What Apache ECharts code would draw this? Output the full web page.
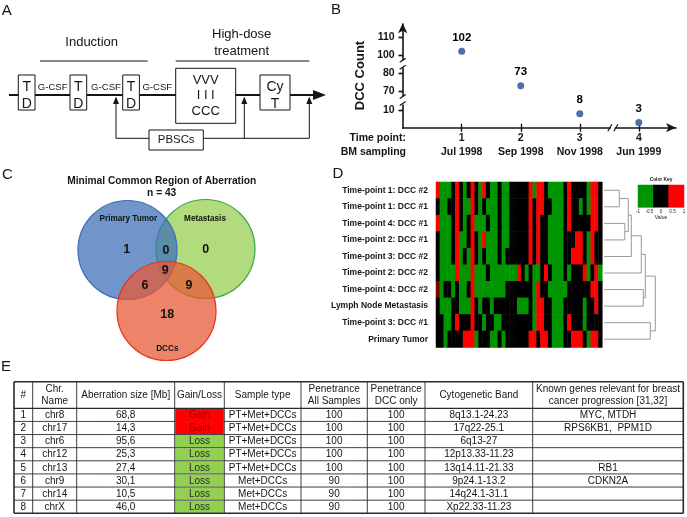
<!DOCTYPE html>
<html>
<head>
<meta charset="utf-8">
<script src="https://cdn.jsdelivr.net/npm/echarts@6/dist/echarts.min.js"></script>
<style>
  html, body { margin: 0; padding: 0; background: #fff; }
  #chart { width: 687px; height: 517px; }
</style>
</head>
<body>
<div id="chart"></div>
<script>
// ---------- panel B: DCC count per sampling ----------
const timePoints = [1, 2, 3, 4]
const samplingDates = ['Jul 1998', 'Sep 1998', 'Nov 1998', 'Jun 1999']
const dccCounts = [102, 73, 8, 3]
const yTickValues = [10, 70, 80, 100, 110]
const yBreaks = [{ start: 13, end: 67, gap: 5 }, { start: 83, end: 97, gap: 4.7 }]

// ---------- panel C: venn ----------
const vennSets = ['Metastasis', 'Primary Tumor', 'DCCs']
const vennRegions = ['PT only', 'PT+Met', 'Met only', 'PT+Met+DCCs', 'PT+DCCs', 'Met+DCCs', 'DCCs only']
const vennCounts = [1, 0, 0, 9, 6, 9, 18]
const vennTotal = 43

// ---------- panel D: heatmap (-1 loss, 0 none, 1 gain) ----------
const heatRows = [
  'Time-point 1: DCC #2', 'Time-point 1: DCC #1', 'Time-point 4: DCC #1', 'Time-point 2: DCC #1',
  'Time-point 3: DCC #2', 'Time-point 2: DCC #2', 'Time-point 4: DCC #2', 'Lymph Node Metastasis',
  'Time-point 3: DCC #1', 'Primary Tumor'
]
const tp1Dcc2 = [1,-1,-1,-1,0,1,0,-1,0,1, 0,-1,1,0,-1,-1,0,-1,-1,0, 0,0,0,0,1,-1,1,1,0,-1, -1,-1,-1,0,1,0,0,0,0,-1, 1,1,0]
const tp1Dcc1 = [0,-1,-1,0,0,1,0,-1,-1,1, 0,-1,0,-1,-1,-1,0,-1,-1,0, 0,0,0,0,1,0,1,1,0,0, -1,-1,-1,0,1,0,0,-1,0,-1, 1,1,0]
const tp4Dcc1 = [1,-1,-1,-1,0,1,0,-1,0,1, -1,-1,-1,0,-1,-1,0,-1,-1,0, 0,0,0,0,1,0,1,0,0,-1, -1,-1,-1,0,1,0,0,0,0,0, 1,1,0]
const tp2Dcc1 = [0,-1,-1,-1,0,1,-1,-1,0,1, 0,-1,1,-1,-1,-1,0,-1,-1,0, 0,0,0,0,1,0,1,0,0,-1, -1,-1,-1,0,0,0,1,1,0,-1, 1,0,0]
const tp3Dcc2 = [0,-1,-1,-1,0,1,-1,0,-1,1, 0,-1,0,-1,-1,-1,0,-1,0,0, 0,0,0,0,1,0,1,0,0,-1, -1,-1,-1,0,0,1,1,1,0,-1, 1,0,0]
const tp2Dcc2 = [0,-1,-1,-1,-1,1,-1,-1,-1,1, -1,-1,-1,0,-1,-1,-1,-1,-1,-1, -1,1,0,-1,0,-1,-1,0,1,0, -1,-1,-1,0,-1,0,0,0,1,-1, 0,1,-1]
const tp4Dcc2 = [0.5,-1,0,0,-1,0,-1,-1,0,1, -1,-1,-1,-1,-1,-1,-1,-1,0,0, 0,0,0,0,0,-1,1,0,0,-1, -1,-1,-1,-1,0,0,0,0,0,0, 1,1,0]
const lymphMet = [0,-1,-1,-1,0,0,-1,-1,-1,1, 0,-1,0,0,-1,0,0,0,0,0, 0,-1,-1,-1,0,-1,1,1,0,0, -1,-1,-1,0,0,0,0,0,-1,0, 0,1,0]
const tp3Dcc1 = [0,0,-1,-1,0,1,0,0,0,1, 0,0,-1,0,0,-1,-1,0,0,0, 0,0,0,0,0,-1,1,1,0,0, -1,-1,-1,0,1,0,0,0,-1,0, 0,0,0]
const primaryTumor = [0,0,-1,0,0,0,0,1,1,1, -1,0,0,0,-1,-1,0,-1,0,0, 0,0,0,0,1,1,0,1,1,0, -1,-1,-1,0,0,1,1,1,0,-1, 1,1,0]
const heatValues = [tp1Dcc2, tp1Dcc1, tp4Dcc1, tp2Dcc1, tp3Dcc2, tp2Dcc2, tp4Dcc2, lymphMet, tp3Dcc1, primaryTumor]
const colorKeyValues = [-1, 0, 1]
// dendrogram merges: nodes 0-9 are rows, merge i creates node 10+i
const dendroLeft = [0, 2, 10, 12, 13, 6, 14, 8, 16]
const dendroRight = [1, 3, 11, 4, 5, 7, 15, 9, 17]
const dendroHeight = [17, 22.5, 26, 29, 39, 41, 43, 48, 53]

// ---------- panel E: table ----------
const tableHeader = ['#', 'Chr.\nName', 'Aberration size [Mb]', 'Gain/Loss', 'Sample type',
  'Penetrance\nAll Samples', 'Penetrance\nDCC only', 'Cytogenetic Band',
  'Known genes relevant for breast\ncancer progression [31,32]']
const rowNo = [1, 2, 3, 4, 5, 6, 7, 8]
const chrName = ['chr8', 'chr17', 'chr6', 'chr12', 'chr13', 'chr9', 'chr14', 'chrX']
const aberrationSize = ['68,8', '14,3', '95,6', '25,3', '27,4', '30,1', '10,5', '46,0']
const gainLoss = ['Gain', 'Gain', 'Loss', 'Loss', 'Loss', 'Loss', 'Loss', 'Loss']
const sampleType = ['PT+Met+DCCs', 'PT+Met+DCCs', 'PT+Met+DCCs', 'PT+Met+DCCs', 'PT+Met+DCCs', 'Met+DCCs', 'Met+DCCs', 'Met+DCCs']
const penetranceAll = [100, 100, 100, 100, 100, 90, 90, 90]
const penetranceDcc = [100, 100, 100, 100, 100, 100, 100, 100]
const cytoBand = ['8q13.1-24.23', '17q22-25.1', '6q13-27', '12p13.33-11.23', '13q14.11-21.33', '9p24.1-13.2', '14q24.1-31.1', 'Xp22.33-11.23']
const knownGenes = ['MYC, MTDH', 'RPS6KB1,  PPM1D', '', '', 'RB1', 'CDKN2A', '', '']

// ---------- layout ----------
const FONT = '"Liberation Sans", Arial, sans-serif'
const vennCenters = [[145.5, 54], [67.5, 55], [106.5, 116]]
const vennRadius = 49.5
const vennFill = ['rgba(151,207,80,0.75)', 'rgba(63,114,183,0.75)', 'rgba(231,91,56,0.75)']
const vennStroke = ['#3aa64a', '#3d6db5', '#e8321e']
const vennLabelPos = [[66.7, 55], [106, 55.7], [145.7, 54.3], [105.3, 76], [85, 91], [129, 91], [107.3, 120]]
const vennNamePos = [[145, 23.3], [68.3, 23.3], [107.3, 153.3]]
const colX = [14, 32.7, 76.7, 174.7, 224.3, 301, 367.3, 425, 532.7, 683.3]
const headTop = 381.7, headBot = 408.3, rowH = 13.125
const TABLE_FONT = 10

const chart = echarts.init(document.getElementById('chart'))

const txt = (x, y, s, size, o = {}) => ({
  type: 'text', x, y, z: 20,
  style: {
    text: s, fill: o.fill || '#151515', fontSize: size, fontFamily: FONT,
    fontWeight: o.bold ? 'bold' : 'normal', align: o.align || 'center',
    verticalAlign: 'middle', lineHeight: o.lh
  }
})
const line = (x1, y1, x2, y2, w = 1, c = '#151515') => ({
  type: 'line', z: 10, shape: { x1, y1, x2, y2 }, style: { stroke: c, lineWidth: w }
})
const rect = (x, y, w, h, fill = '#fff', stroke = '#151515', lw = 1) => ({
  type: 'rect', z: 12, shape: { x, y, width: w, height: h }, style: { fill, stroke, lineWidth: lw }
})
const poly = (pts) => ({ type: 'polygon', z: 13, shape: { points: pts }, style: { fill: '#151515' } })

// panel A schematic
const schematic = () => {
  const g = []
  g.push(line(9, 95, 316, 95, 1.8))
  g.push(poly([[313, 90], [326, 95], [313, 100]]))
  g.push(line(40, 61, 147.7, 61, 1.2), txt(91.7, 42.7, 'Induction', 13))
  g.push(line(175.7, 61, 309.3, 61, 1.2), txt(241.7, 34.3, 'High-dose', 13), txt(241.7, 51, 'treatment', 13))
  ;[18.3, 70, 122.7].forEach(x => {
    g.push(rect(x, 75, 16.7, 35), txt(x + 8.4, 86.7, 'T', 14), txt(x + 8.4, 104.3, 'D', 14))
  })
  ;[52.7, 106, 157.3].forEach(x => g.push(txt(x, 87.3, 'G-CSF', 9.6)))
  g.push(rect(175.7, 68.3, 60, 55), txt(205.7, 80.7, 'VVV', 13), txt(205.7, 95.7, 'I I I', 13), txt(205.7, 111.7, 'CCC', 13))
  g.push(rect(260, 75, 30, 35), txt(275, 86.7, 'Cy', 14), txt(275, 104, 'T', 14))
  g.push(line(116, 138.3, 149, 138.3), line(203.3, 138.3, 309.3, 138.3))
  ;[116, 244.3, 309.3].forEach(x => {
    g.push(line(x, 138.3, x, 103), poly([[x - 3, 104], [x, 96.5], [x + 3, 104]]))
  })
  g.push(rect(149, 130, 54.3, 20), txt(176.2, 140.3, 'PBSCs', 11.4))
  return g
}

// panel E table
const table = () => {
  const g = []
  const cols = [rowNo, chrName, aberrationSize, gainLoss, sampleType, penetranceAll, penetranceDcc, cytoBand, knownGenes]
  const bottom = headBot + rowH * rowNo.length
  gainLoss.forEach((v, i) => {
    const y = headBot + rowH * i
    g.push({
      type: 'rect', z: 8,
      shape: { x: colX[3] + 0.5, y: y + 0.5, width: colX[4] - colX[3] - 1, height: rowH - 1 },
      style: { fill: v === 'Gain' ? '#ff0000' : '#92d050' }
    })
  })
  colX.forEach((x, i) => {
    const edge = i === 0 || i === colX.length - 1
    g.push(line(x, headTop, x, bottom, edge ? 1.6 : 0.9, '#2a2a2a'))
  })
  g.push(line(colX[0], headTop, colX[9], headTop, 1.6, '#2a2a2a'))
  g.push(line(colX[0], bottom, colX[9], bottom, 1.6, '#2a2a2a'))
  for (let i = 0; i < rowNo.length; i++) {
    const y = headBot + rowH * i
    g.push(line(colX[0], y, colX[9], y, i === 0 ? 1.3 : 0.9, '#2a2a2a'))
  }
  tableHeader.forEach((h, c) => {
    g.push(txt((colX[c] + colX[c + 1]) / 2, (headTop + headBot) / 2, h, TABLE_FONT, { lh: 12.5 }))
  })
  cols.forEach((col, c) => {
    col.forEach((v, i) => {
      const cy = headBot + rowH * (i + 0.5) + 0.5
      const fill = c === 3 ? (v === 'Gain' ? '#9a0000' : '#2a2a2a') : '#151515'
      g.push(txt((colX[c] + colX[c + 1]) / 2, cy, String(v), TABLE_FONT, { fill }))
    })
  })
  return g
}

// dendrogram link coordinates
const nodeY = heatRows.map((_, i) => i)
const nodeX = heatRows.map(() => 2)
const dendroLinks = dendroLeft.map((a, i) => {
  const b = dendroRight[i]
  nodeY.push((nodeY[a] + nodeY[b]) / 2)
  nodeX.push(dendroHeight[i])
  return [nodeY[a], nodeX[a], nodeY[b], nodeX[b], dendroHeight[i]]
})

const heatData = []
heatValues.forEach((row, r) => row.forEach((v, c) => heatData.push([c, r, v])))

const breakMarks = yBreaks.map(b => [0, (b.start + b.end) / 2, 0])
breakMarks.push([(timePoints[2] + timePoints[3]) / 2 + 0.06, 0, 1])

const bold = { fontFamily: FONT, fontWeight: 'bold', color: '#151515' }
const hiddenAxis = (gridIndex, min, max, extra = {}) => ({
  gridIndex, type: 'value', min, max, show: false, splitLine: { show: false }, ...extra
})
const bAxisLine = { show: true, symbol: ['none', 'arrow'], symbolSize: [7, 10], lineStyle: { color: '#151515', width: 1.6 } }

const option = {
  animation: false,
  backgroundColor: '#fff',
  grid: [
    { left: 402.7, right: 11, top: 23.3, bottom: 389.3, outerBoundsMode: 'none' },
    { left: 60, top: 195, width: 230, height: 170, outerBoundsMode: 'none' },
    { left: 436, top: 182, width: 166.3, height: 165.5, outerBoundsMode: 'none' },
    { left: 602.3, top: 182, width: 60, height: 165.5, outerBoundsMode: 'none' },
    { left: 638, top: 185, width: 46, height: 22, outerBoundsMode: 'none' }
  ],
  xAxis: [
    {
      gridIndex: 0, type: 'value', min: 0, max: 4.63, axisLine: bAxisLine, splitLine: { show: false },
      axisTick: { customValues: timePoints, length: 4, lineStyle: { color: '#151515', width: 1.4 } },
      axisLabel: {
        customValues: timePoints, margin: 3,
        formatter: v => `{n|${v}}\n{n|${samplingDates[timePoints.indexOf(v)]}}`,
        rich: { n: { ...bold, fontSize: 10.5, lineHeight: 14 } }
      }
    },
    {
      gridIndex: 0, type: 'value', min: 0, max: 4.63, position: 'bottom', axisLine: { show: false },
      splitLine: { show: false }, axisLabel: { show: false },
      axisTick: { customValues: timePoints, inside: true, length: 4, lineStyle: { color: '#151515', width: 1.4 } }
    },
    hiddenAxis(1, 0, 230),
    { gridIndex: 2, type: 'category', data: heatValues[0].map((_, i) => i), show: false },
    hiddenAxis(3, 0, 60),
    { gridIndex: 4, type: 'category', data: colorKeyValues, position: 'top', show: false },
    {
      gridIndex: 4, type: 'value', min: -1, max: 1, interval: 0.5, position: 'bottom',
      axisLine: { show: true, lineStyle: { color: '#444', width: 0.5 } }, splitLine: { show: false },
      axisTick: { length: 1.5, lineStyle: { color: '#444', width: 0.5 } },
      axisLabel: { fontSize: 4.5, margin: 2.5, color: '#222', fontFamily: FONT }
    }
  ],
  yAxis: [
    {
      gridIndex: 0, type: 'value', min: 0, max: 118, breaks: yBreaks, breakArea: { show: false },
      axisLine: bAxisLine, splitLine: { show: false },
      axisTick: { customValues: yTickValues, length: 4, lineStyle: { color: '#151515', width: 1.4 } },
      axisLabel: { customValues: yTickValues, margin: 8, ...bold, fontSize: 10.5 },
      name: 'DCC Count', nameLocation: 'middle', nameGap: 36, nameRotate: 90,
      nameTextStyle: { ...bold, fontSize: 13 }
    },
    {
      gridIndex: 0, type: 'value', min: 0, max: 118, breaks: yBreaks, breakArea: { show: false },
      axisLine: { show: false }, splitLine: { show: false }, axisLabel: { show: false },
      axisTick: { customValues: yTickValues, inside: true, length: 4, lineStyle: { color: '#151515', width: 1.4 } }
    },
    hiddenAxis(1, 0, 170, { inverse: true }),
    {
      gridIndex: 2, type: 'category', data: heatRows, inverse: true,
      axisLine: { show: false }, axisTick: { show: false },
      axisLabel: { ...bold, fontSize: 8.5, margin: 8 }
    },
    hiddenAxis(3, -0.5, 9.5, { inverse: true }),
    { gridIndex: 4, type: 'category', data: ['key'], show: false }
  ],
  visualMap: {
    type: 'continuous', show: false, min: -1, max: 1, dimension: 2, seriesIndex: [4, 6],
    inRange: { color: ['#009400', '#000000', '#ff0000'] }
  },
  series: [
    {
      type: 'scatter', xAxisIndex: 0, yAxisIndex: 0, symbolSize: 7,
      itemStyle: { color: '#4a72a8', opacity: 1 },
      data: timePoints.map((t, i) => [t, dccCounts[i]]),
      label: {
        show: true, position: 'top', distance: 4, color: '#000', fontWeight: 'bold',
        fontFamily: FONT, fontSize: 11.5, formatter: p => p.value[1]
      }
    },
    {
      type: 'custom', xAxisIndex: 0, yAxisIndex: 0, clip: false, z: 5, data: breakMarks,
      renderItem: (params, api) => {
        const [cx, cy] = api.coord([api.value(0), api.value(1)])
        const st = { stroke: '#151515', lineWidth: 1.2 }
        if (api.value(2) === 1) {
          return {
            type: 'group', children: [
              { type: 'rect', shape: { x: cx - 2, y: cy - 3, width: 4, height: 6 }, style: { fill: '#fff' } },
              { type: 'line', shape: { x1: cx - 5, y1: cy + 3.5, x2: cx - 1, y2: cy - 3.5 }, style: st },
              { type: 'line', shape: { x1: cx + 1, y1: cy + 3.5, x2: cx + 5, y2: cy - 3.5 }, style: st }
            ]
          }
        }
        return {
          type: 'group', children: [
            { type: 'rect', shape: { x: cx - 3, y: cy - 2, width: 6, height: 4 }, style: { fill: '#fff' } },
            { type: 'line', shape: { x1: cx - 3, y1: cy - 2, x2: cx + 3, y2: cy - 6 }, style: st },
            { type: 'line', shape: { x1: cx - 3, y1: cy + 5, x2: cx + 3, y2: cy + 1 }, style: st }
          ]
        }
      }
    },
    {
      type: 'custom', xAxisIndex: 2, yAxisIndex: 2, clip: false,
      data: vennSets.map((s, i) => [vennCenters[i][0], vennCenters[i][1], vennRadius]),
      renderItem: (params, api) => {
        const c = api.coord([api.value(0), api.value(1)])
        const r = api.size([api.value(2), 0])[0]
        const i = params.dataIndex
        return { type: 'circle', shape: { cx: c[0], cy: c[1], r }, style: { fill: vennFill[i], stroke: vennStroke[i], lineWidth: 1.2 } }
      }
    },
    {
      type: 'scatter', xAxisIndex: 2, yAxisIndex: 2, symbolSize: 1, z: 5,
      itemStyle: { color: 'transparent', opacity: 1 },
      data: vennRegions.map((n, i) => ({ name: n, value: [vennLabelPos[i][0], vennLabelPos[i][1], vennCounts[i]] }))
        .concat(vennSets.map((n, i) => ({ name: n, value: [vennNamePos[i][0], vennNamePos[i][1], -1] }))),
      label: {
        show: true, position: 'inside', ...bold, color: '#111',
        formatter: p => p.value[2] < 0 ? `{s|${p.name}}` : `{n|${p.value[2]}}`,
        rich: {
          n: { ...bold, fontSize: 12.5, color: '#111' },
          s: { ...bold, fontSize: 8.2, color: '#111' }
        }
      }
    },
    {
      type: 'heatmap', xAxisIndex: 3, yAxisIndex: 3, data: heatData,
      itemStyle: { borderWidth: 0 }, emphasis: { disabled: true }
    },
    {
      type: 'custom', xAxisIndex: 4, yAxisIndex: 4, clip: false, data: dendroLinks,
      encode: { x: [1, 3, 4], y: [0, 2] },
      renderItem: (params, api) => {
        const p1 = api.coord([api.value(1), api.value(0)])
        const p2 = api.coord([api.value(4), api.value(0)])
        const p3 = api.coord([api.value(4), api.value(2)])
        const p4 = api.coord([api.value(3), api.value(2)])
        return { type: 'polyline', shape: { points: [p1, p2, p3, p4] }, style: { stroke: '#999', lineWidth: 1, fill: null } }
      }
    },
    {
      type: 'heatmap', xAxisIndex: 5, yAxisIndex: 5,
      data: colorKeyValues.map((v, i) => [i, 0, v]),
      itemStyle: { borderWidth: 0 }, emphasis: { disabled: true }
    }
  ],
  graphic: [
    txt(6.7, 11, 'A', 15), txt(336, 9.5, 'B', 15), txt(7.5, 175, 'C', 15),
    txt(338, 174, 'D', 15), txt(6, 366.5, 'E', 15),
    txt(406, 137.7, 'Time point:', 10.5, { bold: true, align: 'right' }),
    txt(406, 151.7, 'BM sampling', 10.5, { bold: true, align: 'right' }),
    txt(161.7, 180.7, 'Minimal Common Region of Aberration', 10.2, { bold: true }),
    txt(161.7, 193.3, 'n = ' + vennTotal, 10.2, { bold: true }),
    txt(661, 180, 'Color Key', 4.8, { bold: true }),
    txt(661, 217.5, 'Value', 5),
    ...schematic(),
    ...table()
  ]
}

chart.setOption(option)
</script>
</body>
</html>
